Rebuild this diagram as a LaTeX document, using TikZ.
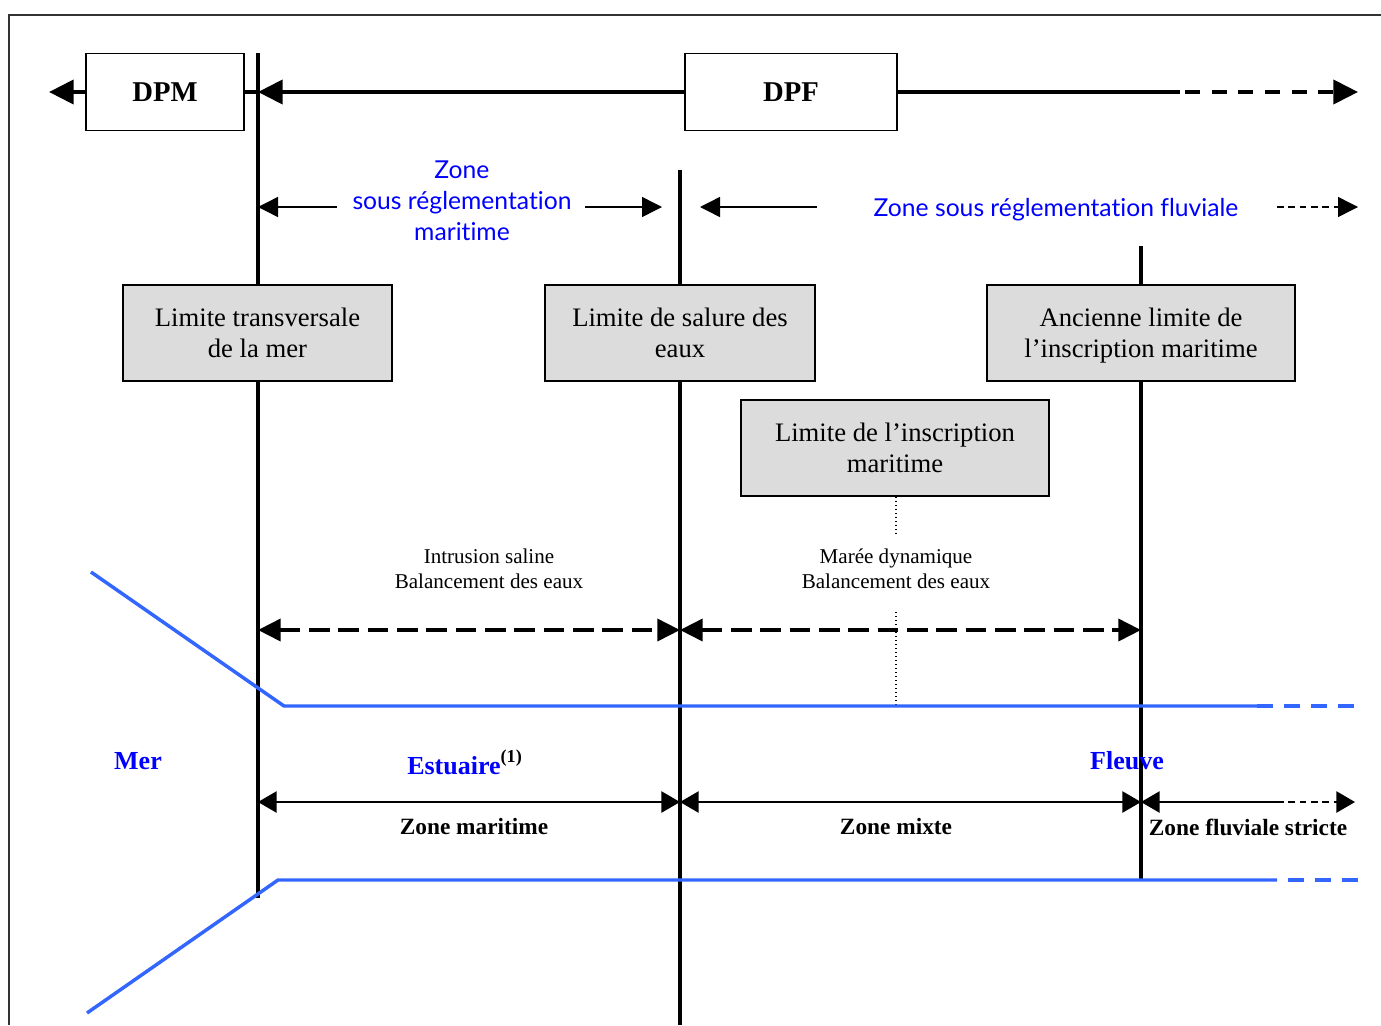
\documentclass[tikz,border=0pt]{standalone}
\usepackage{fontspec}
\setmainfont{Liberation Serif}
\newfontfamily\gillfont[Ligatures=NoCommon]{Lato}
\usetikzlibrary{arrows.meta}

\definecolor{waterblue}{RGB}{51,102,255}
\definecolor{labelblue}{RGB}{0,0,255}
\definecolor{boxgray}{RGB}{220,220,220}

\begin{document}
\begin{tikzpicture}[
    x=0.75pt, y=-0.75pt,
    font=\fontsize{20}{23.25}\selectfont,
    box/.style={draw, line width=1.2pt, minimum height=57.75pt, align=center, fill=white,
                font=\fontsize{21.5}{24}\selectfont\bfseries},
    limbox/.style={draw, line width=1.2pt, fill=boxgray, minimum height=72pt, align=center},
    bigarr/.style={-{Triangle[length=18.5pt, width=18pt]}, line width=3pt},
    thickline/.style={line width=3pt},
    midarr/.style={{Triangle[length=17pt, width=16.5pt]}-{Triangle[length=17pt, width=16.5pt]},
                   line width=2.8pt, dash pattern=on 15.5pt off 6.5pt},
    thinarr/.style={-{Triangle[length=15pt, width=15pt]}, line width=1.1pt},
    botarr/.style={{Triangle[length=14pt, width=16pt]}-{Triangle[length=14pt, width=16pt]}, line width=1.1pt},
    water/.style={draw=waterblue, line width=2.6pt},
    zonetxt/.style={text=labelblue, font=\gillfont\fontsize{18.5}{23.25}\selectfont, align=center},
    bluelab/.style={text=labelblue, font=\fontsize{19.5}{22}\selectfont\bfseries},
    blacklab/.style={font=\fontsize{17.5}{20}\selectfont\bfseries},
    smalltxt/.style={font=\fontsize{15.8}{18.75}\selectfont, align=center},
]
\useasboundingbox (0,0) rectangle (1381,1025);

% ============ frame ============
\draw[line width=1.2pt, black!80] (9,1025) -- (9,15) -- (1381,15);

% ============ limits (vertical lines) ============
\coordinate (vt1) at (258,53);   \coordinate (vb1) at (258,898);
\coordinate (vt2) at (680,170);  \coordinate (vb2) at (680,1025);
\coordinate (vt3) at (1141,246); \coordinate (vb3) at (1141,880);
\draw[thickline] (vt1) -- (vb1);
\draw[thickline] (vt2) -- (vb2);
\draw[thickline] (vt3) -- (vb3);

% ============ DPM / DPF ============
\node[box, minimum width=118.5pt] (dpm) at (165,92) {DPM};
\node[box, minimum width=159pt] (dpf) at (791,92) {DPF};
\coordinate (dpmtip) at (49,92);
\coordinate (dpfsolid) at (1180,92);
\coordinate (dpfdash) at (1185,92);
\coordinate (dpfend) at (1358,92);
\draw[bigarr] (dpm.west) -- (dpmtip);
\draw[thickline] (dpm.east) -- (vt1 |- dpm.east);
\draw[bigarr] (dpf.west) -- (vt1 |- dpf.west);
\draw[thickline] (dpf.east) -- (dpfsolid);
\draw[bigarr, dash pattern=on 11.25pt off 8.75pt] (dpfdash) -- (dpfend);

% ============ regulation zones ============
\node[zonetxt] (zmar) at (462,201) {Zone\\sous réglementation\\maritime};
\node[zonetxt] (zflu) at (1056,209.5) {Zone sous réglementation fluviale};
\coordinate (zm_l) at (337,207);
\coordinate (zm_r) at (585,207);
\coordinate (zm_e) at (662,207);
\coordinate (zf_l) at (817,207);
\coordinate (zf_e) at (700,207);
\coordinate (zf_r) at (1277,207);
\coordinate (zf_end) at (1358,207);
\draw[thinarr] (zm_l) -- (vt1 |- zm_l);
\draw[thinarr] (zm_r) -- (zm_e);
\draw[thinarr] (zf_l) -- (zf_e);
\draw[thinarr, dash pattern=on 5pt off 3.5pt] (zf_r) -- (zf_end);

% ============ limit boxes ============
\node[limbox, minimum width=201.75pt] (lim_mer) at (257.5,333) {Limite transversale\\de la mer};
\node[limbox, minimum width=202.5pt] (lim_sal) at (680,333) {Limite de salure des\\eaux};
\node[limbox, minimum width=231pt] (lim_anc) at (1141,333) {Ancienne limite de\\l’inscri\smash{p}tion maritime};
\node[limbox, minimum width=231pt] (lim_ins) at (895,448) {Limite de l’inscription\\maritime};

% ============ tide ============
\node[smalltxt] (intr) at (489,569) {Intrusion saline\\Balancement des eaux};
\node[smalltxt] (maree) at (896,569) {Marée dynamique\\Balancement des eaux};
\coordinate (tide) at (0,630);
\coordinate (dot_a) at (896,533);
\coordinate (dot_b) at (896,612);
\coordinate (dot_c) at (896,706);
\draw[dotted, line width=1pt] (lim_ins.south -| dot_a) -- (dot_a);
\draw[dotted, line width=1pt] (dot_b) -- (dot_c);
\draw[midarr] (vt1 |- tide) -- (vt2 |- tide);
\draw[midarr] (vt2 |- tide) -- (vt3 |- tide);

% ============ banks ============
\coordinate (up_a) at (91,572);  \coordinate (up_b) at (284,706);
\coordinate (up_c) at (1257,706); \coordinate (up_d) at (1355,706);
\coordinate (lo_a) at (87,1013); \coordinate (lo_b) at (278,880);
\coordinate (lo_c) at (1277,880); \coordinate (lo_e) at (1288,880);
\coordinate (lo_d) at (1358,880);
\draw[water] (up_a) -- (up_b) -- (up_c);
\draw[water, dash pattern=on 12pt off 8.25pt] (up_c) -- (up_d);
\draw[water] (lo_a) -- (lo_b) -- (lo_c);
\draw[water, dash pattern=on 12pt off 8.25pt] (lo_e) -- (lo_d);

\node[bluelab] (mer) at (138,761) {Mer};
\node[bluelab, anchor=west, inner sep=0pt] (estu) at (407,762) {Estuaire\textsuperscript{\color{black}\raisebox{1.5pt}{(1)}}};
\node[bluelab] (fleuve) at (1127,761) {Fleuve};

% ============ zones ============
\coordinate (zone) at (0,802);
\coordinate (zs_d) at (1277,802);
\coordinate (zs_e) at (1355,802);
\draw[botarr] (vt1 |- zone) -- (vt2 |- zone);
\draw[botarr] (vt2 |- zone) -- (vt3 |- zone);
\draw[{Triangle[length=14pt, width=16pt]}-, line width=1.1pt] (vt3 |- zone) -- (zs_d);
\draw[-{Triangle[length=14pt, width=16pt]}, line width=1.1pt, dash pattern=on 5pt off 3.5pt] (zs_d) -- (zs_e);

\node[blacklab] (zmari) at (474,827) {Zone maritime};
\node[blacklab] (zmixt) at (896,827) {Zone mixte};
\node[blacklab] (zfluv) at (1248,827) {Zone fluviale stricte};

\end{tikzpicture}
\end{document}
